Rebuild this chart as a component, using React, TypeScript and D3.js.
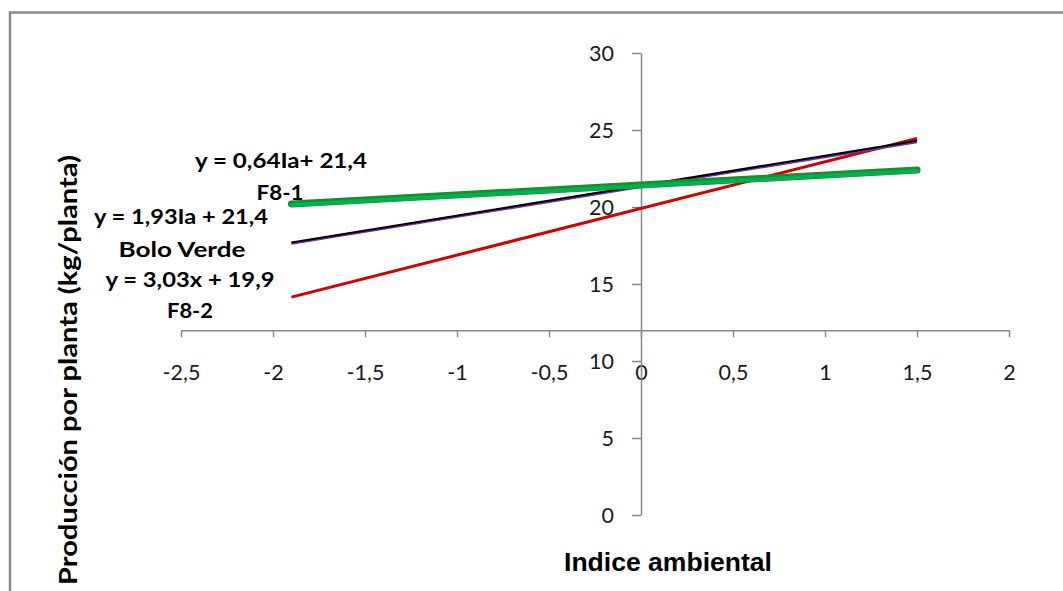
import { useRef, useEffect } from "react";
import * as d3 from "d3";

// indice ambiental at the two ends of each fitted line
const indiceAmbiental = [-1.9, 1.5];
const f81 = [20.2, 22.4];
const boloVerde = [17.7, 24.3];
const f82 = [14.15, 24.45];

const xTicks = [-2.5, -2, -1.5, -1, -0.5, 0, 0.5, 1, 1.5, 2];
const yTicks = [0, 5, 10, 15, 20, 25, 30];

const labels = [
  { text: "y = 0,64Ia+ 21,4", x: 281, y: 168, len: 172 },
  { text: "F8-1", x: 280, y: 200, len: 47 },
  { text: "y = 1,93Ia + 21,4", x: 181, y: 224, len: 174 },
  { text: "Bolo  Verde", x: 182, y: 257, len: 127 },
  { text: "y = 3,03x + 19,9", x: 190, y: 287, len: 169 },
  { text: "F8-2", x: 190, y: 318, len: 46 },
];

const fmt = (d: number) => String(d).replace(".", ",");

const App = () => {
  const svgRef = useRef<SVGSVGElement>(null);

  useEffect(() => {
    const svg = d3.select(svgRef.current);
    svg.selectAll("*").remove();

    const x = d3.scaleLinear().domain([-2.5, 2]).range([181, 1009]);
    const y = d3.scaleLinear().domain([0, 30]).range([515, 53]);
    const axisColor = "#888";

    // chart border (only top and left edges are in view)
    svg
      .append("rect")
      .attr("x", 10)
      .attr("y", 12.5)
      .attr("width", 1200)
      .attr("height", 700)
      .attr("fill", "none")
      .attr("stroke", "#8a8a8a")
      .attr("stroke-width", 2.5);

    // x axis crosses at y = 12
    const xAxis = svg
      .append("g")
      .attr("transform", "translate(0," + y(12) + ")")
      .call(d3.axisBottom(x).tickValues(xTicks).tickSize(7).tickSizeOuter(0).tickFormat((d) => fmt(+d)));
    xAxis.select(".domain").attr("stroke", axisColor).attr("stroke-width", 1.5);
    xAxis.selectAll(".tick line").attr("stroke", axisColor).attr("stroke-width", 1.5);
    xAxis
      .selectAll(".tick text")
      .attr("y", 0)
      .attr("dy", 0)
      .attr("transform", "translate(0," + (380 - y(12)) + ")")
      .attr("font-family", "Lato")
      .attr("font-size", 21.5)
      .attr("fill", "#1a1a1a");

    // y axis at x = 0
    const yAxis = svg
      .append("g")
      .attr("transform", "translate(" + x(0) + ",0)")
      .call(d3.axisLeft(y).tickValues(yTicks).tickSize(9).tickSizeOuter(0).tickFormat((d) => fmt(+d)));
    yAxis.select(".domain").attr("stroke", axisColor).attr("stroke-width", 1.5);
    yAxis.selectAll(".tick line").attr("stroke", axisColor).attr("stroke-width", 1.5);
    yAxis
      .selectAll(".tick text")
      .attr("x", -27)
      .attr("dy", "0.36em")
      .attr("font-family", "Lato")
      .attr("font-size", 21.5)
      .attr("fill", "#1a1a1a");

    const line = d3
      .line<number>()
      .x((_, i) => x(indiceAmbiental[i]))
      .y((d) => y(d));

    // F8-2
    svg
      .append("path")
      .attr("d", line(f82))
      .attr("fill", "none")
      .attr("stroke", "#d00000")
      .attr("stroke-width", 3);

    // Bolo Verde: purple with black on top
    svg
      .append("path")
      .attr("d", line(boloVerde))
      .attr("transform", "translate(0,1.2)")
      .attr("fill", "none")
      .attr("stroke", "#7030a0")
      .attr("stroke-width", 2.5);
    svg
      .append("path")
      .attr("d", line(boloVerde))
      .attr("fill", "none")
      .attr("stroke", "#000")
      .attr("stroke-width", 2);

    // F8-1 thick green
    svg
      .append("path")
      .attr("d", line(f81))
      .attr("fill", "none")
      .attr("stroke", "#15902c")
      .attr("stroke-width", 7)
      .attr("stroke-linecap", "round");
    svg
      .append("path")
      .attr("d", line(f81))
      .attr("transform", "translate(0,1)")
      .attr("fill", "none")
      .attr("stroke", "#00b050")
      .attr("stroke-width", 4)
      .attr("stroke-linecap", "round");

    // equation labels
    svg
      .selectAll(".eq")
      .data(labels)
      .join("text")
      .attr("class", "eq")
      .attr("x", (d) => d.x)
      .attr("y", (d) => d.y)
      .attr("text-anchor", "middle")
      .attr("textLength", (d) => d.len)
      .attr("lengthAdjust", "spacingAndGlyphs")
      .attr("font-family", "Lato")
      .attr("font-weight", "bold")
      .attr("font-size", 21)
      .attr("fill", "#000")
      .text((d) => d.text);

    // axis titles
    svg
      .append("text")
      .attr("x", 668)
      .attr("y", 571)
      .attr("text-anchor", "middle")
      .attr("textLength", 208)
      .attr("lengthAdjust", "spacingAndGlyphs")
      .attr("font-family", "Liberation Sans")
      .attr("font-weight", "bold")
      .attr("font-size", 25)
      .text("Indice ambiental");

    svg
      .append("text")
      .attr("transform", "translate(77,370) rotate(-90)")
      .attr("text-anchor", "middle")
      .attr("textLength", 430)
      .attr("lengthAdjust", "spacingAndGlyphs")
      .attr("font-family", "Lato")
      .attr("font-weight", "bold")
      .attr("font-size", 24)
      .text("Producción por planta (kg/planta)");
  }, []);

  return (
    <svg
      ref={svgRef}
      width={1063}
      height={591}
      style={{ position: "absolute", left: 0, top: 0, background: "#fff" }}
    ></svg>
  );
};

export default App;
